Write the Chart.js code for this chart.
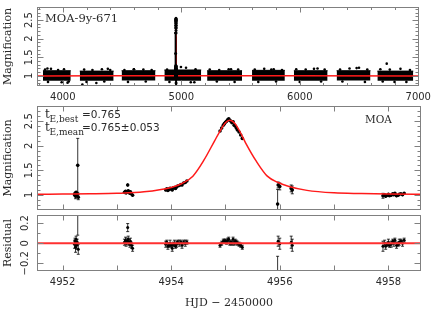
<!DOCTYPE html>
<html><head><meta charset="utf-8">
<script src="https://cdn.jsdelivr.net/npm/chart.js@4.4.0/dist/chart.umd.min.js"></script>
<style>
html,body{margin:0;padding:0;background:#fff;}
#wrap{position:relative;width:436px;height:315px;overflow:hidden;background:#fff;}
canvas{position:absolute;left:0;}
</style></head><body>
<div id="wrap">
<canvas id="c1" width="436" height="105" style="top:0px"></canvas>
<canvas id="c2" width="436" height="116" style="top:100px"></canvas>
<canvas id="c3" width="436" height="105" style="top:210px"></canvas>
</div>
<script>
// ---------------- DATA ----------------
// top panel: observing seasons (dense baseline clouds)
const seasonStart = [3832, 4143, 4496, 4857, 5218, 5597, 5950, 6311, 6655];
const seasonEnd   = [4067, 4429, 4782, 5168, 5513, 5874, 6235, 6597, 6958];
const seasonLow   = [0.87, 0.87, 0.88, 0.87, 0.87, 0.87, 0.87, 0.88, 0.87];
const seasonHigh  = [1.14, 1.13, 1.14, 1.16, 1.14, 1.15, 1.14, 1.14, 1.13];
const outlierHjd  = [3870, 4040, 4165, 4283, 4380, 4600, 4997, 5080, 5420, 5760, 6120, 6480, 6734, 6800,
  3850,3900,3960,4010,3875,3990,4050, 4180,4250,4330,4400,4200,4350, 4520,4600,4680,4750,4550,4700,
  4880,4950,5040,5120,4900,5110, 5240,5320,5400,5480,5300,5450, 5620,5700,5780,5850,5650,5800,
  5970,6050,6150,6210,6000,6180, 6340,6420,6500,6570,6360,6550, 6680,6760,6850,6930,6700,6900];
const outlierMag  = [1.20, 0.82, 0.77, 0.81, 1.19, 1.18, 1.24, 0.83, 1.18, 1.17, 1.19, 1.21, 1.33, 0.84,
  1.17,1.19,1.16,1.18,0.84,0.83,0.85, 1.17,1.16,1.18,1.16,0.84,0.85, 1.16,1.18,1.17,1.16,0.84,0.85,
  1.17,1.20,1.22,1.18,0.84,0.83, 1.17,1.16,1.18,1.17,0.85,0.84, 1.17,1.19,1.18,1.16,0.84,0.85,
  1.18,1.17,1.20,1.17,0.84,0.85, 1.17,1.20,1.22,1.17,0.85,0.84, 1.18,1.17,1.19,1.16,0.85,0.84];

// event data (HJD - 2450000)
const hjd = [
  4952.22,4952.23,4952.24,4952.25,4952.26,4952.27,4952.28,4952.29,
  4953.14,4953.16,4953.17,4953.19,4953.20,4953.21,4953.22,4953.24,4953.25,4953.27,4953.29,
  4953.90,4953.92,4953.94,4953.96,4953.98,4954.00,4954.02,4954.04,4954.06,4954.08,4954.10,4954.12,4954.15,4954.18,4954.20,4954.23,4954.26,4954.29,
  4954.90,4954.93,4954.96,4954.98,4955.00,4955.02,4955.04,4955.06,4955.08,4955.10,4955.12,4955.14,4955.16,4955.18,4955.20,4955.22,4955.25,4955.28,4955.31,
  4955.96,4955.97,4956.00,
  4956.21,4956.23,
  4957.90,4957.93,4957.95,4957.98,4958.00,4958.02,4958.05,4958.08,4958.10,4958.12,4958.15,4958.18,4958.20,4958.23,4958.26,4958.29];
const mag = [
  1.00,1.03,0.97,1.05,0.99,1.02,1.60,0.95,
  1.05,1.07,1.04,1.06,1.20,1.08,1.05,1.03,1.06,1.02,0.99,
  1.10,1.12,1.09,1.11,1.13,1.12,1.10,1.14,1.15,1.13,1.16,1.18,1.19,1.21,1.20,1.24,1.25,1.28,
  2.30,2.36,2.42,2.45,2.48,2.50,2.53,2.55,2.52,2.50,2.47,2.49,2.42,2.40,2.36,2.32,2.28,2.22,2.15,
  0.81,1.20,1.17,
  1.13,1.10,
  0.98,1.00,0.97,0.99,1.01,0.98,0.99,1.02,1.00,1.03,0.98,0.99,1.01,1.02,1.00,1.03];
const magErr = [
  0.04,0.03,0.05,0.03,0.04,0.03,0.55,0.05,
  0.03,0.03,0.03,0.03,0.04,0.03,0.03,0.03,0.03,0.03,0.03,
  0.03,0.02,0.03,0.02,0.03,0.02,0.03,0.02,0.03,0.02,0.03,0.02,0.03,0.02,0.03,0.02,0.03,0.02,
  0.02,0.02,0.02,0.02,0.02,0.02,0.02,0.02,0.02,0.02,0.02,0.02,0.02,0.02,0.02,0.02,0.02,0.02,0.02,
  0.30,0.06,0.07,
  0.07,0.08,
  0.05,0.03,0.03,0.02,0.03,0.02,0.03,0.02,0.03,0.02,0.03,0.02,0.03,0.02,0.03,0.02];
const resid = [
  -0.01,0.02,-0.04,0.04,-0.02,0.01,0.59,-0.06,
  0.01,0.03,0.00,0.02,0.155,0.04,0.01,-0.01,0.02,-0.02,-0.05,
  -0.01,0.01,-0.03,-0.02,0.00,-0.02,-0.05,-0.01,0.00,-0.03,-0.01,0.01,0.00,0.01,-0.02,0.01,0.00,0.01,
  -0.02,0.00,0.02,0.02,0.02,0.01,0.03,0.04,0.00,0.01,0.00,0.04,0.00,0.02,0.01,0.00,-0.01,-0.02,-0.04,
  -0.43,0.02,-0.005,
  0.01,-0.02,
  -0.03,0.00,-0.03,-0.01,0.01,-0.02,-0.01,0.02,0.00,0.03,-0.02,-0.01,0.01,0.02,0.00,0.03];
const residErr = [
  0.04,0.03,0.05,0.03,0.04,0.03,0.51,0.05,
  0.03,0.03,0.03,0.03,0.04,0.03,0.03,0.03,0.03,0.03,0.03,
  0.03,0.02,0.03,0.02,0.03,0.02,0.03,0.02,0.03,0.02,0.03,0.02,0.03,0.02,0.03,0.02,0.03,0.02,
  0.02,0.02,0.02,0.02,0.02,0.02,0.02,0.02,0.02,0.02,0.02,0.02,0.02,0.02,0.02,0.02,0.02,0.02,0.02,
  0.30,0.05,0.055,
  0.06,0.06,
  0.05,0.03,0.03,0.02,0.03,0.02,0.03,0.02,0.03,0.02,0.03,0.02,0.03,0.02,0.03,0.02];

// best-fit model curve
const modelHjd = [4951.50,4952.00,4952.50,4953.00,4953.50,4954.00,4954.20,4954.40,4954.60,4954.80,4954.90,4955.00,4955.08,4955.17,4955.27,4955.37,4955.57,4955.77,4955.97,4956.17,4956.50,4957.00,4957.50,4958.00,4958.70];
const modelMag = [1.010,1.015,1.020,1.030,1.060,1.150,1.230,1.380,1.700,2.100,2.300,2.470,2.520,2.460,2.280,2.060,1.680,1.380,1.250,1.170,1.090,1.040,1.025,1.015,1.010];
const topModelHjd = [3782].concat(modelHjd, [7008]);
const topModelMag = [1.0].concat(modelMag, [1.0]);
const residModelHjd = [4951.40, 4958.70];
const residModelVal = [0, 0];

// tick labels
const topXTicks = [4000, 5000, 6000, 7000];
const topXLabels = ['4000', '5000', '6000', '7000'];
const lowXTicks = [4952, 4954, 4956, 4958];
const lowXLabels = ['4952', '4954', '4956', '4958'];
const magTicks = [1, 1.5, 2, 2.5];
const magLabels = ['1', '1.5', '2', '2.5'];
const resTicks = [-0.2, 0, 0.2];
const resLabels = ['\u22120.2', '0', '0.2'];

// ---------------- HELPERS ----------------
const pts = (xs, ys) => xs.map((x, i) => ({x: x, y: ys[i]}));
const TICKFONT = {family: 'DejaVu Sans', size: 10};
const TITLEFONT = {family: 'DejaVu Serif', size: 11};
const TXT = '#2a2a2a';
function seq(a, b, step) { const r = []; for (let v = a; v <= b + 1e-9; v += step) r.push(+v.toFixed(6)); return r; }

function drawErrors(chart, lw) {
  const {ctx, chartArea: a, scales: {x, y}} = chart;
  ctx.save();
  ctx.beginPath(); ctx.rect(a.left, a.top, a.right - a.left, a.bottom - a.top); ctx.clip();
  ctx.strokeStyle = '#000'; ctx.lineWidth = lw || 0.8;
  chart.data.datasets.forEach(ds => {
    if (!ds.errors) return;
    ds.data.forEach((p, i) => {
      const e = ds.errors[i];
      const px = x.getPixelForValue(p.x);
      const y1 = y.getPixelForValue(p.y - e), y2 = y.getPixelForValue(p.y + e);
      ctx.beginPath();
      ctx.moveTo(px, y1); ctx.lineTo(px, y2);
      if (Math.abs(y1 - y2) > 4) {
        ctx.moveTo(px - 1.5, y1); ctx.lineTo(px + 1.5, y1);
        ctx.moveTo(px - 1.5, y2); ctx.lineTo(px + 1.5, y2);
      }
      ctx.stroke();
    });
  });
  ctx.restore();
}
const errorBars = {
  id: 'errorBars',
  beforeDatasetsDraw(chart, args, o) { if (!o.after) drawErrors(chart, o.lineWidth); },
  afterDatasetsDraw(chart, args, o) { if (o.after) drawErrors(chart, o.lineWidth); }
};

const frame = {
  id: 'frame',
  afterDraw(chart, args, o) {
    const {ctx, chartArea: a, scales: {x, y}} = chart;
    ctx.save();
    ctx.strokeStyle = '#808080'; ctx.lineWidth = 1;
    const L = Math.round(a.left) + 0.5, R = Math.round(a.right) - 0.5, T = Math.round(a.top) + 0.5, B = Math.round(a.bottom) - 0.5;
    ctx.beginPath();
    const xt = (vals, len) => vals.forEach(v => {
      const px = Math.round(x.getPixelForValue(v)) + 0.5;
      if (px < L || px > R) return;
      ctx.moveTo(px, B); ctx.lineTo(px, B - len);
      ctx.moveTo(px, T); ctx.lineTo(px, T + len);
    });
    const yt = (vals, len) => vals.forEach(v => {
      const py = Math.round(y.getPixelForValue(v)) + 0.5;
      if (py < T || py > B) return;
      ctx.moveTo(L, py); ctx.lineTo(L + len, py);
      ctx.moveTo(R, py); ctx.lineTo(R - len, py);
    });
    xt(o.xMajor, 5); xt(o.xMinor, 2.5);
    yt(o.yMajor, 6); yt(o.yMinor, 3);
    ctx.stroke();
    ctx.strokeRect(L, T, R - L, B - T);
    ctx.restore();
    if (o.texts) o.texts(ctx);
  }
};

function xAxis(min, max, ticks, labels, display, height, pad, title) {
  return {
    type: 'linear', min: min, max: max, display: display,
    grid: {display: false, drawTicks: false, tickLength: 0}, border: {display: false},
    afterBuildTicks: s => { s.ticks = ticks.map(v => ({value: v})); },
    afterFit: s => { s.height = height; },
    ticks: {autoSkip: false, maxRotation: 0, minRotation: 0, padding: pad, font: TICKFONT, color: TXT,
            callback: (v, i) => labels[i]},
    title: title ? {display: true, text: title, font: TITLEFONT, color: TXT, padding: {top: 0, bottom: 5}} : {display: false}
  };
}
function yAxis(min, max, ticks, labels, title, pad) {
  return {
    type: 'linear', min: min, max: max,
    grid: {display: false, drawTicks: false, tickLength: 0}, border: {display: false},
    afterBuildTicks: s => { s.ticks = ticks.map(v => ({value: v})); },
    afterFit: s => { s.width = 37; },
    ticks: {autoSkip: false, minRotation: 90, maxRotation: 90, crossAlign: 'center', padding: pad,
            font: TICKFONT, color: TXT, callback: (v, i) => labels[i]},
    title: {display: true, text: title, font: TITLEFONT, color: TXT, padding: {top: 2, bottom: 0}}
  };
}
const base = {
  responsive: false, animation: false, events: [],
  plugins: {legend: {display: false}, tooltip: {enabled: false}},
  elements: {line: {tension: 0}, point: {radius: 0}}
};

function drawSub(ctx, x, y, main, sub, rest, restX) {
  ctx.fillStyle = TXT; ctx.textBaseline = 'alphabetic'; ctx.textAlign = 'left';
  ctx.font = '12px "DejaVu Serif"'; ctx.fillText(main, x, y);
  ctx.font = '9px "DejaVu Serif"'; ctx.fillText(sub, x + 4.5, y + 3.5);
  ctx.font = '10.5px "DejaVu Sans"'; ctx.fillText(rest, restX, y);
}

// ---------------- TOP PANEL ----------------
const seasonSets = seasonStart.map((s, i) => ({
  type: 'line', data: [{x: s, y: seasonHigh[i]}, {x: seasonEnd[i], y: seasonHigh[i]}],
  borderColor: '#000', borderWidth: 1, backgroundColor: '#000', pointRadius: 0,
  fill: {value: seasonLow[i]}, order: 5
}));
new Chart(document.getElementById('c1'), {
  type: 'line',
  data: {datasets: [
    {type: 'line', data: pts(topModelHjd, topModelMag), borderColor: '#ff1a1a', borderWidth: 1.6, pointRadius: 0, fill: false, order: 4},
    {type: 'line', showLine: false, data: pts(hjd, mag), errors: magErr, pointRadius: 1.5, pointBackgroundColor: '#000', pointBorderWidth: 0, order: 2},
    {type: 'line', showLine: false, data: pts(outlierHjd, outlierMag), pointRadius: 1.3, pointBackgroundColor: '#000', pointBorderWidth: 0, order: 3}
  ].concat(seasonSets)},
  options: Object.assign({}, base, {
    layout: {padding: {top: 7, left: 0, right: 15, bottom: 0}},
    scales: {x: xAxis(3782, 7008, topXTicks, topXLabels, true, 19, 5, null),
             y: yAxis(0.73, 2.85, magTicks, magLabels, 'Magnification', 0)},
    plugins: Object.assign({}, base.plugins, {
      errorBars: {after: true, lineWidth: 2},
      frame: {
        xMajor: topXTicks, xMinor: seq(3800, 7000, 200), yMajor: magTicks, yMinor: seq(0.8, 2.8, 0.1),
        texts: ctx => { ctx.fillStyle = TXT; ctx.font = '11.5px "DejaVu Serif"'; ctx.textAlign = 'left'; ctx.textBaseline = 'alphabetic'; ctx.fillText('MOA-9y-671', 45, 22); }
      }})
  }),
  plugins: [errorBars, frame]
});

// ---------------- MIDDLE PANEL ----------------
new Chart(document.getElementById('c2'), {
  type: 'line',
  data: {datasets: [
    {type: 'line', data: pts(modelHjd, modelMag), borderColor: '#ff1a1a', borderWidth: 1.5, pointRadius: 0, fill: false, cubicInterpolationMode: 'monotone', order: 0},
    {type: 'line', showLine: false, data: pts(hjd, mag), errors: magErr, pointRadius: 1.8, pointBackgroundColor: '#000', pointBorderWidth: 0, order: 2}
  ]},
  options: Object.assign({}, base, {
    layout: {padding: {top: 4, left: 0, right: 15, bottom: 2}},
    scales: {x: xAxis(4951.53, 4958.6, lowXTicks, lowXLabels, false, 0, 0, null),
             y: yAxis(0.69, 2.81, magTicks, magLabels, 'Magnification', 0)},
    plugins: Object.assign({}, base.plugins, {
      errorBars: {after: false},
      frame: {
        xMajor: seq(4952, 4958, 1), xMinor: [], yMajor: magTicks, yMinor: seq(0.7, 2.8, 0.1),
        texts: ctx => {
          drawSub(ctx, 45, 18, 't', 'E,best', '=0.765', 82);
          drawSub(ctx, 45, 31, 't', 'E,mean', '=0.765\u00b10.053', 82);
          ctx.font = '10.5px "DejaVu Serif"'; ctx.fillText('MOA', 365, 23);
        }
      }})
  }),
  plugins: [errorBars, frame]
});

// ---------------- RESIDUAL PANEL ----------------
new Chart(document.getElementById('c3'), {
  type: 'line',
  data: {datasets: [
    {type: 'line', data: pts(residModelHjd, residModelVal), borderColor: '#ff3030', borderWidth: 2, pointRadius: 0, fill: false, order: 0},
    {type: 'line', showLine: false, data: pts(hjd, resid), errors: residErr, pointRadius: 1.5, pointBackgroundColor: '#000', pointBorderWidth: 0, order: 2}
  ]},
  options: Object.assign({}, base, {
    layout: {padding: {top: 4, left: 0, right: 15, bottom: 0}},
    scales: {x: xAxis(4951.53, 4958.6, lowXTicks, lowXLabels, true, 44, 5, 'HJD \u2212 2450000'),
             y: yAxis(-0.276, 0.28, resTicks, resLabels, 'Residual', -1)},
    plugins: Object.assign({}, base.plugins, {
      errorBars: {after: false},
      frame: {
        xMajor: seq(4952, 4958, 1), xMinor: [], yMajor: resTicks, yMinor: [-0.1, 0.1]
      }})
  }),
  plugins: [errorBars, frame]
});
</script>
</body></html>
